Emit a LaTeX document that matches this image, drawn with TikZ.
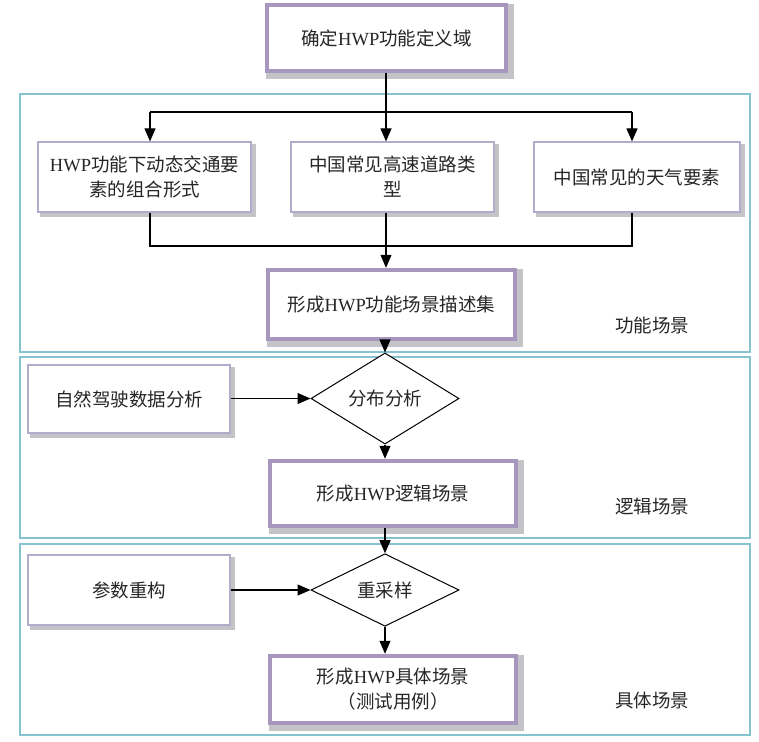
\documentclass[tikz,border=0pt]{standalone}
\usepackage{fontspec}
\setmainfont{Liberation Serif}
\newfontfamily\cjk{Noto Sans CJK SC}
\usetikzlibrary{arrows.meta,shapes.geometric,backgrounds}
\definecolor{purp}{HTML}{A797BF}
\definecolor{thinpurp}{HTML}{B4AACB}
\definecolor{secteal}{HTML}{86C3D0}
\definecolor{shadowc}{HTML}{C4C4C8}
\begin{document}
\begin{tikzpicture}[x=1pt,y=-1pt,
  txt/.style={font=\fontsize{18.5}{25}\selectfont\cjk, align=center, text=black!85},
  mainbox/.style={txt, draw=purp, line width=4.5pt, fill=white, inner sep=0pt},
  subbox/.style={txt, draw=thinpurp, line width=1.2pt, fill=white, inner sep=0pt},
  decide/.style={txt, diamond, draw=black, line width=1pt, fill=white, inner sep=0pt,
    minimum width=148pt, minimum height=67pt},
  section/.style={draw=secteal, line width=1.3pt},
  conn/.style={draw=black, line width=1.1pt},
  arr/.style={conn, -{Triangle[length=13pt,width=11pt]}},
  lbl/.style={txt},
  shad/.style={fill=shadowc}
]
\useasboundingbox (0,0) rectangle (759,741);
% sections
\draw[section] (20,94) rectangle (750,352);
\draw[section] (20,357) rectangle (750,538);
\draw[section] (20,544) rectangle (750,735);
% nodes
\node[mainbox, minimum width=239pt, minimum height=66pt] (top) at (386.5,38) {确定{\rmfamily HWP}功能定义域};
\node[subbox, minimum width=213pt, minimum height=70pt] (b1) at (144.5,177) {{\rmfamily HWP}功能下动态交通要\\素的组合形式};
\node[subbox, minimum width=203pt, minimum height=70pt] (b2) at (392.5,177) {中国常见高速道路类\\型};
\node[subbox, minimum width=206pt, minimum height=70pt] (b3) at (637,177) {中国常见的天气要素};
\node[mainbox, minimum width=247pt, minimum height=69pt] (f1) at (391.5,304.5) {形成{\rmfamily HWP}功能场景描述集};
\node[lbl] (s1) at (652,325) {功能场景};
\node[subbox, minimum width=202pt, minimum height=68pt] (a1) at (129,399) {自然驾驶数据分析};
\node[decide] (d1) at (385,398.5) {分布分析};
\node[mainbox, minimum width=246pt, minimum height=65pt] (l1) at (393,493.5) {形成{\rmfamily HWP}逻辑场景};
\node[lbl] (s2) at (652,506) {逻辑场景};
\node[subbox, minimum width=202pt, minimum height=70pt] (a2) at (129,590) {参数重构};
\node[decide] (d2) at (385,590) {重采样};
\node[mainbox, minimum width=246pt, minimum height=67pt] (c1) at (393,689.5) {形成{\rmfamily HWP}具体场景\\（测试用例）};
\node[lbl] (s3) at (652,700) {具体场景};
% shadows
\begin{scope}[on background layer]
  \foreach \n in {top,f1,l1,c1}
    \fill[shad] ([shift={(1,1)}]\n.north west) rectangle ([shift={(6,6)}]\n.south east);
  \foreach \n in {b1,b2,b3,a1,a2}
    \fill[shad] ([shift={(3,3)}]\n.north west) rectangle ([shift={(4,4)}]\n.south east);
\end{scope}
% junction coordinates
\coordinate (jt) at (386,112);
\coordinate (jtl) at (150,112);
\coordinate (jtr) at (632,112);
\coordinate (jb) at (386,246);
\coordinate (jbl) at (150,246);
\coordinate (jbr) at (632,246);
% connectors
\draw[conn] (top.south -| jt) -- (jt);
\draw[conn] (jtl) -- (jtr);
\draw[arr] (jtl) -- (b1.north -| jtl);
\draw[arr] (jt) -- (b2.north -| jt);
\draw[arr] (jtr) -- (b3.north -| jtr);
\draw[conn] (b1.south -| jbl) -- (jbl) -- (jbr) -- (b3.south -| jbr);
\draw[conn] (b2.south -| jb) -- (jb);
\draw[arr] (jb) -- (f1.north -| jb);
\draw[arr] (f1.south -| d1.north) -- (d1.north);
\draw[arr] (a1.east |- d1.west) -- (d1.west);
\draw[arr] (d1.south) -- (l1.north -| d1.south);
\draw[arr] (l1.south -| d2.north) -- (d2.north);
\draw[arr] (a2.east |- d2.west) -- (d2.west);
\draw[arr] (d2.south) -- (c1.north -| d2.south);
\end{tikzpicture}
\end{document}
